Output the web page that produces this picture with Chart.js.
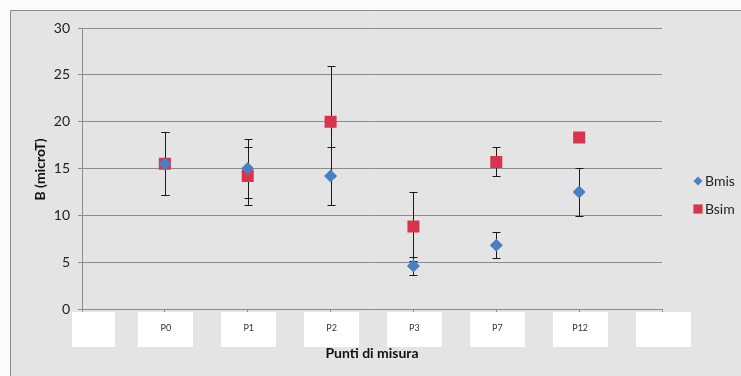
<!DOCTYPE html>
<html>
<head>
<meta charset="utf-8">
<script src="https://cdn.jsdelivr.net/npm/chart.js@4"></script>
<style>
  html, body { margin: 0; padding: 0; background: #fff; }
  #wrap { width: 741px; height: 376px; }
</style>
</head>
<body>
<div id="wrap"><canvas id="grafico" width="741" height="376"></canvas></div>
<script>
var punti = ["", "P0", "P1", "P2", "P3", "P7", "P12", ""];
var bmis = [null, 15.5, 15.0, 14.2, 4.6, 6.8, 12.5, null];
var bmisErr = [null, 3.35, 3.2, 3.1, 1.0, 1.4, 2.6, null];
var bsim = [null, 15.5, 14.2, 20.0, 8.8, 15.7, 18.3, null];
var bsimErr = [null, 3.35, 3.1, 5.9, 3.65, 1.55, 0, null];
var yTicks = [0, 5, 10, 15, 20, 25, 30];

var fontName = "Lato, 'Open Sans', sans-serif";
var blu = "#4a7fc6";
var rosso = "#d8344d";

// sfondo grigio con cornice
var sfondo = {
  id: "sfondo",
  beforeDraw: function(chart) {
    var ctx = chart.ctx;
    ctx.save();
    ctx.fillStyle = "#fbfbfb";
    ctx.fillRect(0, 0, chart.width, chart.height);
    ctx.fillStyle = "#e4e4e4";
    ctx.fillRect(10, 10, chart.width, chart.height);
    ctx.strokeStyle = "#8a8a8a";
    ctx.lineWidth = 1;
    ctx.beginPath();
    ctx.moveTo(10.5, chart.height);
    ctx.lineTo(10.5, 10.5);
    ctx.lineTo(chart.width, 10.5);
    ctx.stroke();
    ctx.restore();
  }
};

// barre di errore sotto i marker
var barreErrore = {
  id: "barreErrore",
  beforeDatasetsDraw: function(chart) {
    var ctx = chart.ctx;
    var x = chart.scales.x, y = chart.scales.y;
    var serie = [[bmis, bmisErr], [bsim, bsimErr]];
    ctx.save();
    ctx.strokeStyle = "#1a1a1a";
    ctx.lineWidth = 1;
    serie.forEach(function(s) {
      for (var i = 0; i < s[0].length; i++) {
        if (s[0][i] == null || !s[1][i]) continue;
        var px = Math.round(x.getPixelForValue(i)) + 0.5;
        var top = Math.round(y.getPixelForValue(s[0][i] + s[1][i])) + 0.5;
        var bot = Math.round(y.getPixelForValue(s[0][i] - s[1][i])) + 0.5;
        ctx.beginPath();
        ctx.moveTo(px, top); ctx.lineTo(px, bot);
        ctx.moveTo(px - 4, top); ctx.lineTo(px + 4, top);
        ctx.moveTo(px - 4, bot); ctx.lineTo(px + 4, bot);
        ctx.stroke();
      }
    });
    ctx.restore();
  }
};

// etichette in riquadri bianchi, titoli e legenda
var decorazioni = {
  id: "decorazioni",
  afterDraw: function(chart) {
    var ctx = chart.ctx;
    var x = chart.scales.x;
    var area = chart.chartArea;
    ctx.save();
    for (var i = 0; i < punti.length; i++) {
      var px = x.getPixelForValue(i);
      var w = i === 0 ? 43 : 55;
      var cx = i === 0 ? px + 11 : px + 1;
      ctx.fillStyle = "#ffffff";
      ctx.fillRect(Math.round(cx - w / 2), area.bottom + 3, w, 35);
      ctx.fillStyle = "#333333";
      ctx.font = "9px " + fontName;
      ctx.textAlign = "center";
      ctx.textBaseline = "middle";
      ctx.fillText(punti[i], px + 1, area.bottom + 19);
    }
    ctx.fillStyle = "#111111";
    ctx.font = "bold 14px " + fontName;
    ctx.textAlign = "center";
    ctx.textBaseline = "middle";
    ctx.fillText("Punti di misura", (area.left + area.right) / 2, 353);
    ctx.translate(40, (area.top + area.bottom) / 2 + 1);
    ctx.rotate(-Math.PI / 2);
    ctx.fillText("B (microT)", 0, 0);
    ctx.restore();

    ctx.save();
    var voci = [
      { testo: "Bmis", colore: blu, forma: "rectRot", r: 4.5, y: 181 },
      { testo: "Bsim", colore: rosso, forma: "rect", r: 6.5, y: 209 }
    ];
    voci.forEach(function(v) {
      ctx.fillStyle = v.colore;
      ctx.strokeStyle = v.colore;
      Chart.helpers.drawPoint(ctx, { pointStyle: v.forma, radius: v.r, borderWidth: 0 }, 698, v.y);
      ctx.fillStyle = "#222222";
      ctx.font = "14px " + fontName;
      ctx.textAlign = "left";
      ctx.textBaseline = "middle";
      ctx.fillText(v.testo, 705, v.y);
    });
    ctx.restore();
  }
};

new Chart(document.getElementById("grafico"), {
  type: "line",
  data: {
    labels: punti,
    datasets: [{
      label: "Bmis",
      data: bmis,
      showLine: false,
      pointStyle: "rectRot",
      pointRadius: 6.5,
      pointBackgroundColor: blu,
      pointBorderColor: blu,
      pointBorderWidth: 0
    }, {
      label: "Bsim",
      data: bsim,
      showLine: false,
      pointStyle: "rect",
      pointRadius: 8.5,
      pointBackgroundColor: rosso,
      pointBorderColor: rosso,
      pointBorderWidth: 0
    }]
  },
  options: {
    responsive: false,
    animation: false,
    layout: { padding: { top: 28, right: 79, bottom: 0, left: 0 } },
    plugins: {
      legend: { display: false },
      tooltip: { enabled: false }
    },
    scales: {
      x: {
        offset: false,
        afterFit: function(scale) { scale.height = 67; },
        ticks: { display: false },
        grid: { drawOnChartArea: false, tickLength: 3, color: "#8c8c8c" },
        border: { color: "#8c8c8c" }
      },
      y: {
        min: 0,
        max: 30,
        afterFit: function(scale) { scale.width = 82; },
        afterBuildTicks: function(scale) {
          scale.ticks = yTicks.map(function(v) { return { value: v }; });
        },
        ticks: {
          padding: 8,
          color: "#222222",
          font: { family: fontName, size: 14 }
        },
        grid: { color: "#8c8c8c", tickLength: 4 },
        border: { color: "#8c8c8c" }
      }
    }
  },
  plugins: [sfondo, barreErrore, decorazioni]
});
</script>
</body>
</html>
